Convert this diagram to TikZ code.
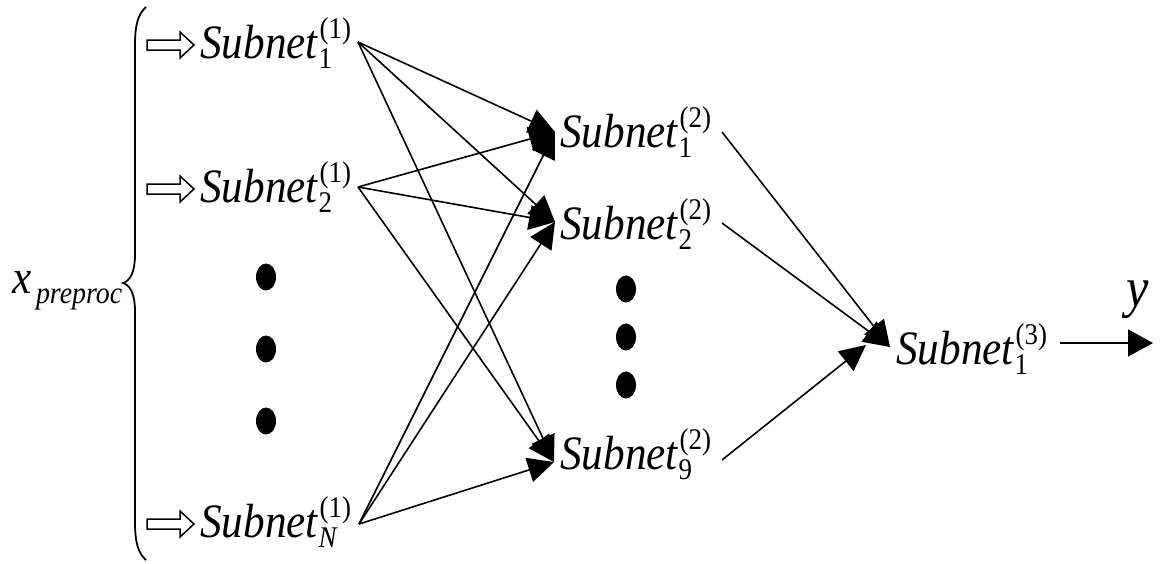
\documentclass[tikz,border=0pt]{standalone}
\usepackage{fontspec}
\setmainfont{Liberation Serif}
\usetikzlibrary{arrows.meta}
\newcommand{\bigf}{\fontsize{48}{56}\selectfont}
\newcommand{\smf}{\fontsize{30}{32}\selectfont}
\newcommand{\snet}[2]{\scalebox{0.9}[1]{\bigf\textit{Subnet}\rlap{\raisebox{-10pt}{\smf #1}}\kern1pt\raisebox{20pt}{\smf (#2)}}}
\tikzset{
  lbl/.style={anchor=base west, inner sep=0pt},
  conn/.style={line width=1.6pt, -{Triangle[length=26pt,width=25pt]}},
  hollow/.style={line width=1.5pt, fill=white, line join=miter},
  dot/.style={fill=black},
}
\begin{document}
\begin{tikzpicture}[x=1pt,y=-1pt]
\useasboundingbox (0,0) rectangle (1162,563);
% brace
\draw[line width=1.8pt] (146,7) .. controls (138,14) and (135,25) .. (135,45) -- (135,255)
  .. controls (135,272) and (130,281) .. (123,283)
  .. controls (130,285) and (135,294) .. (135,311) -- (135,522)
  .. controls (135,542) and (138,553) .. (146,560);
\node[lbl] (xin) at (12,293) {\scalebox{0.9}[1]{\bigf\textit{x}\raisebox{-10pt}{\fontsize{31}{33}\selectfont\,\textit{preproc}}}};
% hollow arrows
\foreach \cy in {45,189,524}{
  \draw[hollow] (147,\cy-5) -- (180,\cy-5) -- (180,\cy-13) -- (194,\cy) -- (180,\cy+13) -- (180,\cy+5) -- (147,\cy+5) -- cycle;
}
% layer 1
\node[lbl] (a1) at (200,58) {\snet{1}{1}};
\node[lbl] (a2) at (200,202) {\snet{2}{1}};
\node[lbl] (aN) at (200,537) {\snet{\textit{N}}{1}};
% layer 2
\node[lbl] (b1) at (560,147) {\snet{1}{2}};
\node[lbl] (b2) at (560,239) {\snet{2}{2}};
\node[lbl] (b9) at (560,469) {\snet{9}{2}};
% layer 3
\node[lbl] (c1) at (896,364) {\snet{1}{3}};
\node[anchor=base, inner sep=0pt] (ylab) at (1138,306) {\scalebox{0.9}[1]{\fontsize{56}{60}\selectfont\textit{y}}};
% dots
\foreach \cy in {277,349,421}{ \fill[dot] (266,\cy) ellipse [x radius=10, y radius=13.5]; }
\foreach \cy in {289,337,385}{ \fill[dot] (626,\cy) ellipse [x radius=10, y radius=13.5]; }
% connection points
\coordinate (a1o) at (358,42);
\coordinate (a2o) at (358,187);
\coordinate (aNo) at (359,524);
\coordinate (b1i) at (555,132);
\coordinate (b2i) at (555,222);
\coordinate (b9i) at (554,462);
\coordinate (b1o) at (722,132);
\coordinate (b2o) at (722,223);
\coordinate (b9o) at (722,460);
\coordinate (c1i) at (890,347);
\coordinate (c1j) at (866,345);
\coordinate (c1o) at (1060,343);
\coordinate (yout) at (1153,343);
% connectors layer 1 -> 2
\foreach \s in {a1o,a2o,aNo}{
  \foreach \t in {b1i,b2i,b9i}{
    \draw[conn] (\s) -- (\t);
  }
}
% layer 2 -> 3
\draw[conn] (b1o) -- (c1i);
\draw[conn] (b2o) -- (c1i);
\draw[conn] (b9o) -- (c1j);
\draw[line width=1.6pt, -{Triangle[length=25pt,width=27pt]}] (c1o) -- (yout);
\end{tikzpicture}
\end{document}
